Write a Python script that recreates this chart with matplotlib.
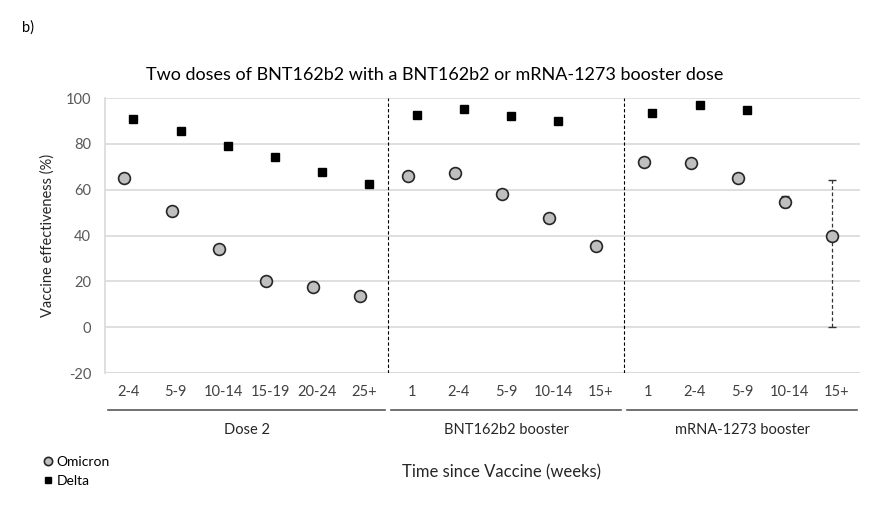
import matplotlib.pyplot as plt
import matplotlib.transforms as mtransforms

plt.rcParams['font.family'] = ['Lato', 'DejaVu Sans']
plt.rcParams['axes.unicode_minus'] = False

# categories (weeks since vaccine) for each group
groups = ["Dose 2", "BNT162b2 booster", "mRNA-1273 booster"]
group_labels = [
    ["2-4", "5-9", "10-14", "15-19", "20-24", "25+"],
    ["1", "2-4", "5-9", "10-14", "15+"],
    ["1", "2-4", "5-9", "10-14", "15+"],
]

# vaccine effectiveness (%), None where there is no estimate
omicron = [65, 50.8, 34, 20.2, 17.5, 13.5,
           66, 67.2, 58, 47.6, 35.5,
           72, 71.6, 65, 54.6, 39.7]
delta = [90.8, 85.5, 79, 74.3, 67.6, 62.4,
         92.5, 95.2, 92, 90, None,
         93.4, 96.8, 94.8, None, None]
# confidence interval (lower, upper) only where visible
omicron_ci = {14: (52.3, 57.2), 15: (0, 64.2)}
delta_ci = {13: (93.6, 96.2)}

tick_labels = [t for g in group_labels for t in g]
n = len(tick_labels)
xs = list(range(n))

fig = plt.figure(figsize=(8.96, 5.16), dpi=100)
ax = fig.add_axes([0.1172, 0.2771, 0.8428, 0.5329])

# gridlines
ax.set_ylim(-20, 100)
ax.set_xlim(-0.5, n - 0.5)
ax.set_yticks(range(-20, 101, 20))
ax.yaxis.grid(True, color="#d9d9d9", linewidth=1.2)
ax.set_axisbelow(True)
for s in ["top", "right", "bottom"]:
    ax.spines[s].set_visible(False)
ax.spines["left"].set_color("#d9d9d9")
ax.spines["left"].set_linewidth(1.2)
ax.tick_params(axis="y", length=0, labelsize=10.5, labelcolor="#595959", pad=10)
ax.tick_params(axis="x", length=0)
ax.set_xticks([])
ax.axhline(-20, color="#d9d9d9", linewidth=1.2, zorder=0)

# separators between groups
starts = [0]
for g in group_labels[:-1]:
    starts.append(starts[-1] + len(g))
for s in starts[1:]:
    ax.axvline(s - 0.5, color="black", linestyle=(0, (3, 2)), linewidth=0.8)

# error bars
for i, (lo, hi) in omicron_ci.items():
    eb = ax.errorbar(xs[i] - 0.09, omicron[i], yerr=[[omicron[i] - lo], [hi - omicron[i]]],
                     fmt="none", ecolor="#333333", elinewidth=0.9, capsize=3, zorder=2)
    eb[-1][0].set_linestyle((0, (3, 2)))
for i, (lo, hi) in delta_ci.items():
    ax.errorbar(xs[i] + 0.1, delta[i], yerr=[[delta[i] - lo], [hi - delta[i]]],
                fmt="none", ecolor="black", elinewidth=0.9, capsize=3, zorder=2)

ox = [x - 0.09 for x in xs]
dx = [x + 0.1 for i, x in enumerate(xs) if delta[i] is not None]
dy = [v for v in delta if v is not None]
ax.plot(ox, omicron, "o", ms=8.5, mfc="#bfbfbf", mec="#262626", mew=1.2,
        linestyle="none", label="Omicron", zorder=3)
ax.plot(dx, dy, "s", ms=6.3, mfc="black", mec="black",
        linestyle="none", label="Delta", zorder=3)

# multi-level category labels
trans = mtransforms.blended_transform_factory(ax.transData, ax.transAxes)
for i, t in enumerate(tick_labels):
    ax.text(xs[i], -0.045, t, transform=trans, ha="center", va="top",
            fontsize=10.5, color="#404040")
for gi, g in enumerate(group_labels):
    a = starts[gi] - 0.5 + 0.07
    b = starts[gi] + len(g) - 0.5 - 0.07
    ax.plot([a, b], [-0.135, -0.135], transform=trans, color="#595959",
            linewidth=1.2, clip_on=False)
    ax.text((a + b) / 2, -0.18, groups[gi], transform=trans, ha="center",
            va="top", fontsize=10.5, color="#262626")

ax.set_ylabel("Vaccine effectiveness (%)", fontsize=10.5, color="#262626", labelpad=8)
fig.text(0.56, 0.085, "Time since Vaccine (weeks)", ha="center", va="center",
         fontsize=12, color="#262626")
fig.text(0.485, 0.855, "Two doses of BNT162b2 with a BNT162b2 or mRNA-1273 booster dose",
         ha="center", va="center", fontsize=13, color="black")
fig.text(0.025, 0.947, "b)", ha="left", va="center", fontsize=10.5, color="black")

fig.legend(loc="lower left", bbox_to_anchor=(0.04, 0.045), frameon=False,
           fontsize=10, handletextpad=0.1, handlelength=1.0, labelspacing=0.55,
           markerscale=0.7, borderaxespad=0)

fig.savefig("out.png", dpi=100, facecolor="white")
